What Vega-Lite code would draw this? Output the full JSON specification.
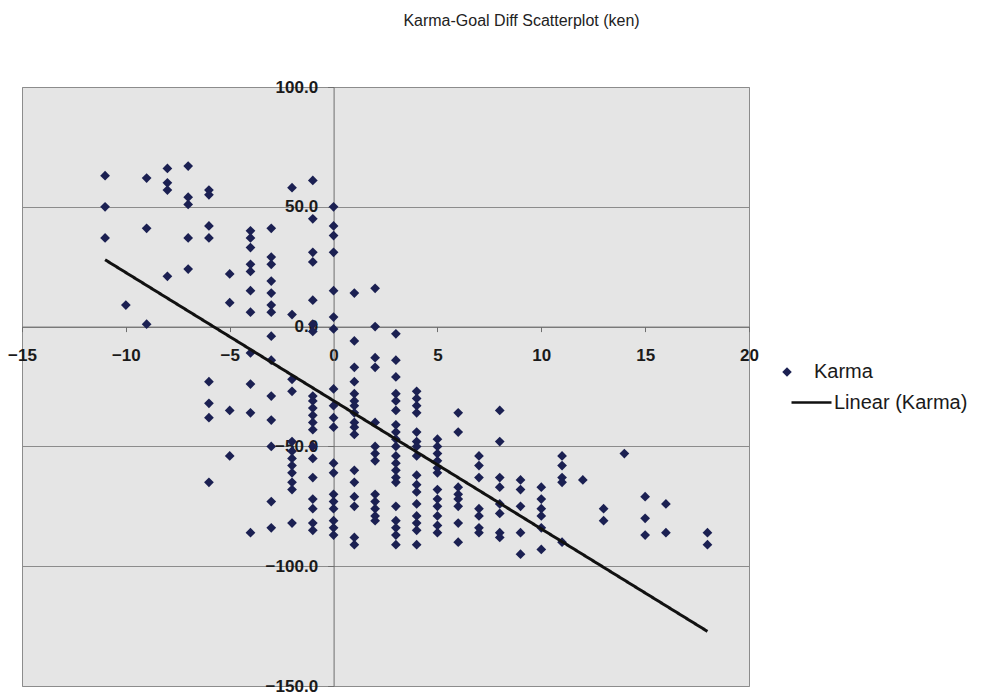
{
  "$schema": "https://vega.github.io/schema/vega-lite/v6.json",
  "width": 727,
  "height": 599,
  "autosize": {"type": "none"},
  "padding": {"left": 22, "top": 87, "right": 239, "bottom": 8},
  "background": "white",
  "title": {
    "text": "Karma-Goal Diff Scatterplot (ken)",
    "font": "Liberation Sans",
    "fontSize": 16,
    "fontWeight": "normal",
    "color": "#222222",
    "anchor": "middle",
    "dx": 136,
    "offset": 49
  },
  "config": {
    "view": {"fill": "#e5e5e5", "stroke": "#8c8c8c", "strokeWidth": 1},
    "axis": {
      "labelFont": "Liberation Sans",
      "labelColor": "#1a1a1a",
      "domainColor": "#6e6e6e",
      "tickColor": "#6e6e6e",
      "gridColor": "#8c8c8c",
      "gridWidth": 1,
      "labelFlush": false,
      "labelOverlap": false
    },
    "legend": {"labelFont": "Liberation Sans", "labelFontSize": 20, "labelColor": "#1a1a1a"}
  },
  "datasets": {
    "karma": [
      {"goalDiff": -11, "karma": 63}, {"goalDiff": -11, "karma": 50}, {"goalDiff": -11, "karma": 37},
      {"goalDiff": -10, "karma": 9},
      {"goalDiff": -9, "karma": 62}, {"goalDiff": -9, "karma": 41}, {"goalDiff": -9, "karma": 1},
      {"goalDiff": -8, "karma": 66}, {"goalDiff": -8, "karma": 60}, {"goalDiff": -8, "karma": 57}, {"goalDiff": -8, "karma": 21},
      {"goalDiff": -7, "karma": 67}, {"goalDiff": -7, "karma": 54}, {"goalDiff": -7, "karma": 51}, {"goalDiff": -7, "karma": 37}, {"goalDiff": -7, "karma": 24},
      {"goalDiff": -6, "karma": 57}, {"goalDiff": -6, "karma": 55}, {"goalDiff": -6, "karma": 42}, {"goalDiff": -6, "karma": 37},
      {"goalDiff": -6, "karma": -23}, {"goalDiff": -6, "karma": -32}, {"goalDiff": -6, "karma": -38}, {"goalDiff": -6, "karma": -65},
      {"goalDiff": -5, "karma": 22}, {"goalDiff": -5, "karma": 10}, {"goalDiff": -5, "karma": -35}, {"goalDiff": -5, "karma": -54},
      {"goalDiff": -4, "karma": 40}, {"goalDiff": -4, "karma": 37}, {"goalDiff": -4, "karma": 33}, {"goalDiff": -4, "karma": 26},
      {"goalDiff": -4, "karma": 23}, {"goalDiff": -4, "karma": 15}, {"goalDiff": -4, "karma": 6}, {"goalDiff": -4, "karma": -11},
      {"goalDiff": -4, "karma": -24}, {"goalDiff": -4, "karma": -36}, {"goalDiff": -4, "karma": -86},
      {"goalDiff": -3, "karma": 41}, {"goalDiff": -3, "karma": 29}, {"goalDiff": -3, "karma": 26}, {"goalDiff": -3, "karma": 19},
      {"goalDiff": -3, "karma": 14}, {"goalDiff": -3, "karma": 9}, {"goalDiff": -3, "karma": 6}, {"goalDiff": -3, "karma": -4},
      {"goalDiff": -3, "karma": -14}, {"goalDiff": -3, "karma": -29}, {"goalDiff": -3, "karma": -39}, {"goalDiff": -3, "karma": -50},
      {"goalDiff": -3, "karma": -73}, {"goalDiff": -3, "karma": -84},
      {"goalDiff": -2, "karma": 58}, {"goalDiff": -2, "karma": 5}, {"goalDiff": -2, "karma": -22}, {"goalDiff": -2, "karma": -27},
      {"goalDiff": -2, "karma": -48}, {"goalDiff": -2, "karma": -52}, {"goalDiff": -2, "karma": -55}, {"goalDiff": -2, "karma": -58},
      {"goalDiff": -2, "karma": -61}, {"goalDiff": -2, "karma": -65}, {"goalDiff": -2, "karma": -68}, {"goalDiff": -2, "karma": -82},
      {"goalDiff": -1, "karma": 61}, {"goalDiff": -1, "karma": 45}, {"goalDiff": -1, "karma": 31}, {"goalDiff": -1, "karma": 27},
      {"goalDiff": -1, "karma": 11}, {"goalDiff": -1, "karma": 1}, {"goalDiff": -1, "karma": -2}, {"goalDiff": -1, "karma": -29},
      {"goalDiff": -1, "karma": -31}, {"goalDiff": -1, "karma": -34}, {"goalDiff": -1, "karma": -37}, {"goalDiff": -1, "karma": -40},
      {"goalDiff": -1, "karma": -43}, {"goalDiff": -1, "karma": -50}, {"goalDiff": -1, "karma": -55}, {"goalDiff": -1, "karma": -63},
      {"goalDiff": -1, "karma": -72}, {"goalDiff": -1, "karma": -76}, {"goalDiff": -1, "karma": -82}, {"goalDiff": -1, "karma": -85},
      {"goalDiff": 0, "karma": 50}, {"goalDiff": 0, "karma": 42}, {"goalDiff": 0, "karma": 38}, {"goalDiff": 0, "karma": 31},
      {"goalDiff": 0, "karma": 15}, {"goalDiff": 0, "karma": 4}, {"goalDiff": 0, "karma": -1}, {"goalDiff": 0, "karma": -26},
      {"goalDiff": 0, "karma": -33}, {"goalDiff": 0, "karma": -38}, {"goalDiff": 0, "karma": -42}, {"goalDiff": 0, "karma": -57},
      {"goalDiff": 0, "karma": -61}, {"goalDiff": 0, "karma": -70}, {"goalDiff": 0, "karma": -73}, {"goalDiff": 0, "karma": -76},
      {"goalDiff": 0, "karma": -81}, {"goalDiff": 0, "karma": -84}, {"goalDiff": 0, "karma": -87},
      {"goalDiff": 1, "karma": 14}, {"goalDiff": 1, "karma": -6}, {"goalDiff": 1, "karma": -17}, {"goalDiff": 1, "karma": -23},
      {"goalDiff": 1, "karma": -28}, {"goalDiff": 1, "karma": -31}, {"goalDiff": 1, "karma": -33}, {"goalDiff": 1, "karma": -36},
      {"goalDiff": 1, "karma": -40}, {"goalDiff": 1, "karma": -42}, {"goalDiff": 1, "karma": -45}, {"goalDiff": 1, "karma": -60},
      {"goalDiff": 1, "karma": -65}, {"goalDiff": 1, "karma": -71}, {"goalDiff": 1, "karma": -75}, {"goalDiff": 1, "karma": -88},
      {"goalDiff": 1, "karma": -91},
      {"goalDiff": 2, "karma": 16}, {"goalDiff": 2, "karma": 0}, {"goalDiff": 2, "karma": -13}, {"goalDiff": 2, "karma": -17},
      {"goalDiff": 2, "karma": -40}, {"goalDiff": 2, "karma": -50}, {"goalDiff": 2, "karma": -53}, {"goalDiff": 2, "karma": -56},
      {"goalDiff": 2, "karma": -70}, {"goalDiff": 2, "karma": -73}, {"goalDiff": 2, "karma": -76}, {"goalDiff": 2, "karma": -79},
      {"goalDiff": 2, "karma": -81},
      {"goalDiff": 3, "karma": -3}, {"goalDiff": 3, "karma": -14}, {"goalDiff": 3, "karma": -21}, {"goalDiff": 3, "karma": -28},
      {"goalDiff": 3, "karma": -31}, {"goalDiff": 3, "karma": -35}, {"goalDiff": 3, "karma": -41}, {"goalDiff": 3, "karma": -44},
      {"goalDiff": 3, "karma": -47}, {"goalDiff": 3, "karma": -50}, {"goalDiff": 3, "karma": -54}, {"goalDiff": 3, "karma": -57},
      {"goalDiff": 3, "karma": -60}, {"goalDiff": 3, "karma": -63}, {"goalDiff": 3, "karma": -65}, {"goalDiff": 3, "karma": -75},
      {"goalDiff": 3, "karma": -81}, {"goalDiff": 3, "karma": -84}, {"goalDiff": 3, "karma": -87}, {"goalDiff": 3, "karma": -91},
      {"goalDiff": 4, "karma": -27}, {"goalDiff": 4, "karma": -30}, {"goalDiff": 4, "karma": -33}, {"goalDiff": 4, "karma": -36},
      {"goalDiff": 4, "karma": -44}, {"goalDiff": 4, "karma": -48}, {"goalDiff": 4, "karma": -50}, {"goalDiff": 4, "karma": -54},
      {"goalDiff": 4, "karma": -62}, {"goalDiff": 4, "karma": -66}, {"goalDiff": 4, "karma": -69}, {"goalDiff": 4, "karma": -74},
      {"goalDiff": 4, "karma": -79}, {"goalDiff": 4, "karma": -82}, {"goalDiff": 4, "karma": -85}, {"goalDiff": 4, "karma": -91},
      {"goalDiff": 5, "karma": -47}, {"goalDiff": 5, "karma": -50}, {"goalDiff": 5, "karma": -53}, {"goalDiff": 5, "karma": -56},
      {"goalDiff": 5, "karma": -59}, {"goalDiff": 5, "karma": -61}, {"goalDiff": 5, "karma": -68}, {"goalDiff": 5, "karma": -72},
      {"goalDiff": 5, "karma": -75}, {"goalDiff": 5, "karma": -79}, {"goalDiff": 5, "karma": -83}, {"goalDiff": 5, "karma": -86},
      {"goalDiff": 6, "karma": -36}, {"goalDiff": 6, "karma": -44}, {"goalDiff": 6, "karma": -67}, {"goalDiff": 6, "karma": -70},
      {"goalDiff": 6, "karma": -72}, {"goalDiff": 6, "karma": -75}, {"goalDiff": 6, "karma": -82}, {"goalDiff": 6, "karma": -90},
      {"goalDiff": 7, "karma": -54}, {"goalDiff": 7, "karma": -58}, {"goalDiff": 7, "karma": -63}, {"goalDiff": 7, "karma": -76},
      {"goalDiff": 7, "karma": -79}, {"goalDiff": 7, "karma": -84}, {"goalDiff": 7, "karma": -86},
      {"goalDiff": 8, "karma": -35}, {"goalDiff": 8, "karma": -48}, {"goalDiff": 8, "karma": -63}, {"goalDiff": 8, "karma": -67},
      {"goalDiff": 8, "karma": -74}, {"goalDiff": 8, "karma": -78}, {"goalDiff": 8, "karma": -86}, {"goalDiff": 8, "karma": -88},
      {"goalDiff": 9, "karma": -64}, {"goalDiff": 9, "karma": -68}, {"goalDiff": 9, "karma": -75}, {"goalDiff": 9, "karma": -86},
      {"goalDiff": 9, "karma": -95},
      {"goalDiff": 10, "karma": -67}, {"goalDiff": 10, "karma": -72}, {"goalDiff": 10, "karma": -76}, {"goalDiff": 10, "karma": -79},
      {"goalDiff": 10, "karma": -84}, {"goalDiff": 10, "karma": -93},
      {"goalDiff": 11, "karma": -54}, {"goalDiff": 11, "karma": -58}, {"goalDiff": 11, "karma": -63}, {"goalDiff": 11, "karma": -65},
      {"goalDiff": 11, "karma": -90},
      {"goalDiff": 12, "karma": -64},
      {"goalDiff": 13, "karma": -76}, {"goalDiff": 13, "karma": -81},
      {"goalDiff": 14, "karma": -53},
      {"goalDiff": 15, "karma": -71}, {"goalDiff": 15, "karma": -80}, {"goalDiff": 15, "karma": -87},
      {"goalDiff": 16, "karma": -74}, {"goalDiff": 16, "karma": -86},
      {"goalDiff": 18, "karma": -86}, {"goalDiff": 18, "karma": -91}
    ],
    "trend": [
      {"goalDiff": -11, "karma": 27.9},
      {"goalDiff": 18, "karma": -127.2}
    ]
  },
  "encoding": {
    "x": {
      "field": "goalDiff",
      "type": "quantitative",
      "scale": {"domain": [-15, 20], "nice": false, "zero": false},
      "axis": {
        "orient": "bottom",
        "offset": -359.4,
        "values": [-15, -10, -5, 0, 5, 10, 15, 20],
        "grid": false,
        "title": null,
        "tickSize": 5,
        "labelPadding": 16,
        "labelFontSize": 17,
        "labelFontWeight": "bold"
      }
    },
    "y": {
      "field": "karma",
      "type": "quantitative",
      "scale": {"domain": [-150, 100], "nice": false, "zero": false},
      "axis": {
        "orient": "left",
        "offset": -311.6,
        "values": [-150, -100, -50, 0, 50, 100],
        "format": ".1f",
        "grid": true,
        "title": null,
        "tickSize": 6,
        "labelPadding": 10,
        "labelFontSize": 17,
        "labelFontWeight": "bold"
      }
    }
  },
  "layer": [
    {
      "data": {"name": "karma"},
      "mark": {"type": "point", "filled": true, "size": 95, "opacity": 1, "color": "#1b2052"},
      "encoding": {
        "shape": {
          "datum": "Karma",
          "scale": {"domain": ["Karma"], "range": ["diamond"]},
          "legend": {
            "orient": "none",
            "legendX": 755,
            "legendY": 275,
            "title": null,
            "symbolSize": 90,
            "symbolFillColor": "#1b2052",
            "symbolStrokeWidth": 0,
            "labelOffset": 17
          }
        }
      }
    },
    {
      "data": {"name": "trend"},
      "mark": {"type": "line", "color": "#111111", "strokeWidth": 3},
      "encoding": {
        "strokeDash": {
          "datum": "Linear (Karma)",
          "scale": {"domain": ["Linear (Karma)"], "range": [[1, 0]]},
          "legend": {
            "orient": "none",
            "legendX": 768,
            "legendY": 294,
            "title": null,
            "symbolType": "stroke",
            "symbolSize": 1600,
            "symbolStrokeColor": "#111111",
            "symbolStrokeWidth": 2.5,
            "labelOffset": 1
          }
        }
      }
    }
  ]
}
